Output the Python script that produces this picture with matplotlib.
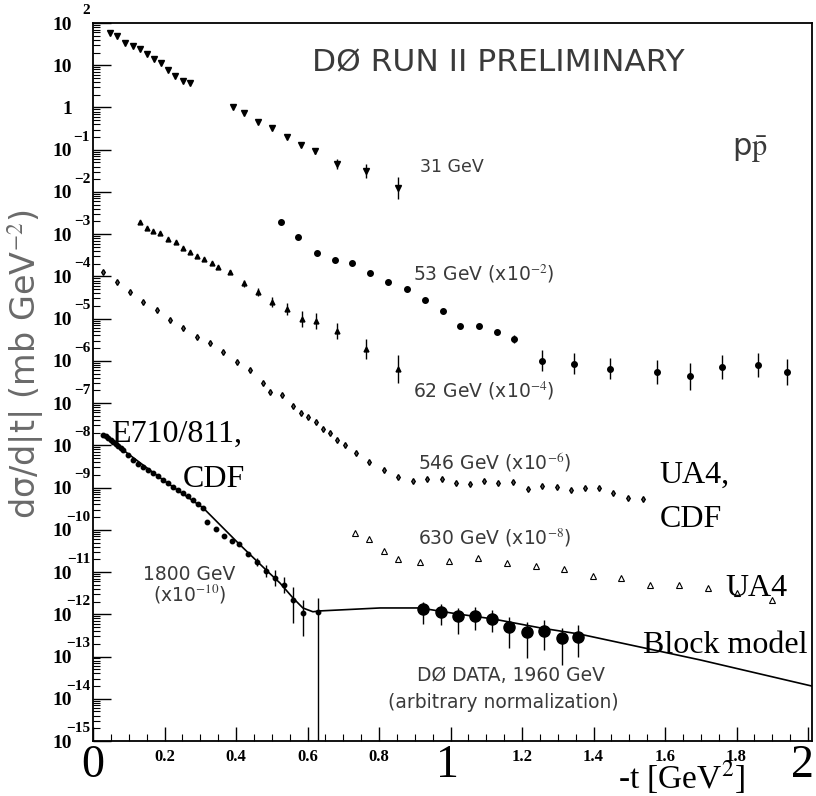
import matplotlib
matplotlib.use('Agg')
import matplotlib.pyplot as plt
import matplotlib.transforms as mtransforms
import numpy as np

plt.rcParams['mathtext.fontset'] = 'stix'

# -t values [GeV^2] and log10(dsigma/dt)
t31 = [0.048, 0.067, 0.090, 0.112, 0.131, 0.151, 0.171, 0.190, 0.210, 0.229, 0.252, 0.271,
       0.392, 0.422, 0.462, 0.501, 0.543, 0.582, 0.621, 0.683, 0.764, 0.853]
y31 = [1.76, 1.69, 1.53, 1.46, 1.38, 1.27, 1.15, 1.05, 0.89, 0.75, 0.63, 0.58,
       0.01, -0.13, -0.34, -0.49, -0.70, -0.89, -1.03, -1.34, -1.50, -1.91]
e31 = [0, 0, 0, 0, 0, 0, 0, 0, 0, 0, 0, 0,
       0, 0, 0, 0, 0, 0.05, 0.06, 0.12, 0.17, 0.26]

t53 = [0.526, 0.573, 0.627, 0.677, 0.724, 0.775, 0.825, 0.878, 0.929, 0.979, 1.027, 1.080,
       1.130, 1.178, 1.256, 1.345, 1.446, 1.578, 1.670, 1.759, 1.860, 1.941]
y53 = [-2.71, -3.07, -3.45, -3.61, -3.68, -3.92, -4.13, -4.30, -4.56, -4.82, -5.17, -5.17,
       -5.32, -5.48, -6.00, -6.07, -6.19, -6.26, -6.36, -6.14, -6.10, -6.26]
e53 = [0, 0, 0, 0, 0, 0, 0, 0, 0, 0, 0, 0,
       0.05, 0.1, 0.25, 0.25, 0.25, 0.28, 0.32, 0.28, 0.28, 0.3]

t62 = [0.131, 0.151, 0.168, 0.187, 0.210, 0.232, 0.252, 0.271, 0.291, 0.310, 0.333, 0.350,
       0.383, 0.422, 0.462, 0.501, 0.543, 0.585, 0.624, 0.683, 0.764, 0.853]
y62 = [-2.71, -2.85, -2.92, -2.97, -3.11, -3.18, -3.33, -3.42, -3.52, -3.59, -3.68, -3.78,
       -3.89, -4.16, -4.37, -4.61, -4.77, -5.01, -5.06, -5.29, -5.72, -6.19]
e62 = [0, 0, 0, 0, 0, 0, 0, 0, 0, 0, 0, 0,
       0.05, 0.08, 0.1, 0.12, 0.14, 0.19, 0.19, 0.19, 0.24, 0.33]

t546 = [0.028, 0.067, 0.103, 0.140, 0.179, 0.215, 0.252, 0.291, 0.327, 0.364, 0.403, 0.439,
        0.476, 0.495, 0.529, 0.559, 0.582, 0.601, 0.624, 0.643, 0.663, 0.683, 0.705, 0.736,
        0.772, 0.814, 0.853, 0.895, 0.934, 0.976, 1.015, 1.055, 1.094, 1.133, 1.175, 1.217,
        1.256, 1.298, 1.337, 1.376, 1.415, 1.455, 1.497, 1.538]
y546 = [-3.90, -4.13, -4.37, -4.61, -4.79, -5.03, -5.22, -5.43, -5.58, -5.79, -6.03, -6.21,
        -6.52, -6.73, -6.81, -7.07, -7.23, -7.33, -7.45, -7.61, -7.71, -7.87, -7.99, -8.18,
        -8.39, -8.58, -8.75, -8.84, -8.80, -8.80, -8.89, -8.91, -8.84, -8.89, -8.87, -9.03,
        -8.96, -8.98, -9.06, -9.01, -9.01, -9.13, -9.25, -9.27]

t630 = [0.733, 0.772, 0.814, 0.853, 0.915, 0.996, 1.077, 1.158, 1.239, 1.317, 1.399, 1.477,
        1.558, 1.639, 1.720, 1.801, 1.899]
y630 = [-10.07, -10.22, -10.50, -10.69, -10.76, -10.74, -10.67, -10.78, -10.86, -10.93, -11.09, -11.14,
        -11.30, -11.30, -11.38, -11.49, -11.66]

t1800 = [0.028, 0.035, 0.042, 0.049, 0.056, 0.063, 0.070, 0.077, 0.084, 0.098, 0.112, 0.126,
         0.140, 0.154, 0.168, 0.182, 0.196, 0.210, 0.224, 0.238, 0.252, 0.266, 0.280, 0.294,
         0.308, 0.319, 0.344, 0.366, 0.389, 0.408, 0.434, 0.459, 0.484, 0.509, 0.534, 0.559,
         0.587, 0.629]
y1800 = [-7.75, -7.78, -7.82, -7.87, -7.92, -7.96, -8.01, -8.06, -8.11, -8.23, -8.35, -8.43,
         -8.51, -8.58, -8.65, -8.73, -8.82, -8.90, -8.99, -9.06, -9.13, -9.21, -9.29, -9.38,
         -9.48, -9.81, -9.98, -10.14, -10.26, -10.33, -10.57, -10.76, -10.97, -11.14, -11.30, -11.66,
         -11.97, -11.94]
e1800_up = [0] * 31 + [0.1, 0.14, 0.2, 0.19, 0.31, 0.31, 0.33]
e1800_dn = [0] * 31 + [0.1, 0.14, 0.2, 0.19, 0.55, 0.55, 5.0]

t_d0 = [0.923, 0.973, 1.021, 1.069, 1.116, 1.164, 1.214, 1.262, 1.312, 1.357]
y_d0 = [-11.87, -11.94, -12.04, -12.04, -12.11, -12.30, -12.42, -12.39, -12.56, -12.53]
e_d0_up = [0.17, 0.19, 0.19, 0.21, 0.21, 0.24, 0.24, 0.26, 0.24, 0.28]
e_d0_dn = [0.36, 0.31, 0.43, 0.33, 0.31, 0.50, 0.62, 0.45, 0.64, 0.47]

t_block = [0.028, 0.084, 0.196, 0.308, 0.408, 0.484, 0.523, 0.559, 0.587, 0.615, 0.635,
           0.803, 0.915, 1.018, 1.119, 1.250, 1.362, 1.698, 2.011]
y_block = [-7.75, -8.11, -8.82, -9.48, -10.33, -10.95, -11.26, -11.61, -11.85, -11.94, -11.92,
           -11.85, -11.85, -11.99, -12.11, -12.32, -12.47, -13.08, -13.70]

decades = list(range(-15, 3))


def errbars(ax, t, ylog, up, dn, **kw):
    ylog = np.array(ylog)
    y = 10 ** ylog
    lo = y - 10 ** (ylog - np.array(dn))
    hi = 10 ** (ylog + np.array(up)) - y
    ax.errorbar(t, y, yerr=[lo, hi], fmt='none', ecolor='black', elinewidth=1.0, capsize=0)


fig = plt.figure(figsize=(8.16, 7.96), dpi=100)
ax = fig.add_axes([93 / 816, 55 / 796, 719 / 816, 718 / 796])
ax.set_yscale('log')
ax.set_xlim(0, 2.011)
ax.set_ylim(1e-15, 1e2)

# Block model curve
ax.plot(t_block, 10 ** np.array(y_block), color='black', lw=1.2, zorder=2)

# data sets
errbars(ax, t31, y31, e31, e31)
ax.plot(t31, 10 ** np.array(y31), 'v', color='black', ms=3.8)

errbars(ax, t53, y53, e53, e53)
ax.plot(t53, 10 ** np.array(y53), 'o', color='black', ms=4)

errbars(ax, t62, y62, e62, e62)
ax.plot(t62, 10 ** np.array(y62), '^', color='black', ms=3.5)

ax.plot(t546, 10 ** np.array(y546), 'd', color='black', mfc='#555555', ms=3)

ax.plot(t630, 10 ** np.array(y630), '^', color='black', mfc='white', mew=0.8, ms=4)

errbars(ax, t1800, y1800, e1800_up, e1800_dn)
ax.plot(t1800, 10 ** np.array(y1800), 'o', color='black', ms=3.2)

errbars(ax, t_d0, y_d0, e_d0_up, e_d0_dn)
ax.plot(t_d0, 10 ** np.array(y_d0), 'o', color='black', ms=8)

# axes styling
for sp in ax.spines.values():
    sp.set_linewidth(1.3)
ax.set_yticks([10.0 ** k for k in decades])
ax.set_yticklabels(['1' if k == 0 else '10' for k in decades],
                   fontsize=14, fontweight='bold', family='Liberation Serif')
ax.yaxis.set_minor_locator(matplotlib.ticker.LogLocator(base=10, subs=np.arange(2, 10), numticks=40))
ax.yaxis.set_minor_formatter(matplotlib.ticker.NullFormatter())
ax.tick_params(axis='y', which='major', direction='in', length=13, width=1, pad=15)
ax.tick_params(axis='y', which='minor', direction='in', length=5, width=0.8)

# raised exponents of the y tick labels, old PAW style
ytrans = mtransforms.blended_transform_factory(ax.transAxes, ax.transData)
for k in decades:
    if k in (0, 1):
        continue
    ax.text(-0.004, 10.0 ** (k + 0.3), str(k).replace('-', '\u2212'), transform=ytrans,
            ha='right', va='center', fontsize=11, fontweight='bold',
            family='Liberation Serif', clip_on=False)

xt = [0.2, 0.4, 0.6, 0.8, 1.0, 1.2, 1.4, 1.6, 1.8]
ax.set_xticks([0.0] + xt + [2.0])
ax.set_xticklabels([''] + ['' if v == 1.0 else '%.1f' % v for v in xt] + [''],
                   fontsize=12, fontweight='bold', family='Liberation Serif')
ax.set_xticks(np.arange(0, 2.01, 0.05), minor=True)
ax.tick_params(axis='x', which='major', direction='in', length=10, width=1, pad=6)
ax.tick_params(axis='x', which='minor', direction='in', length=5, width=0.8)

# big axis numbers and x label
trans = mtransforms.blended_transform_factory(ax.transData, ax.transAxes)
for v, s in [(0.0, '0'), (0.99, '1'), (1.983, '2')]:
    ax.text(v, -0.034, s, transform=trans, ha='center', va='center',
            fontsize=33, family='Liberation Serif', clip_on=False)
ax.text(1.645, -0.051, '-t [GeV$^2$]', transform=trans, ha='center', va='center',
        fontsize=24, family='Liberation Serif', clip_on=False)

ax.text(-0.093, 0.524, 'd\u03c3/d|t| (mb GeV$^{-2}$)', transform=ax.transAxes, rotation=90,
        ha='center', va='center', fontsize=24, color='#6a6a6a', family='DejaVu Sans')

grey = '#3a3a3a'
def note(x, y, s, size=13.5, ha='left'):
    ax.text(x, 10.0 ** y, s, ha=ha, va='center', fontsize=size, color=grey, family='DejaVu Sans')

note(0.612, 1.06, 'D\u00d8 RUN II PRELIMINARY', size=22.5)
note(1.787, -1.0, r'p$\bar{\mathrm{p}}$', size=22)
note(0.915, -1.42, '31 GeV', size=12.5)
note(0.895, -3.95, '53 GeV (x10$^{-2}$)')
note(0.895, -6.7, '62 GeV (x10$^{-4}$)')
note(0.91, -8.4, '546 GeV (x10$^{-6}$)')
note(0.91, -10.2, '630 GeV (x10$^{-8}$)')
note(0.27, -11.05, '1800 GeV', ha='center')
note(0.27, -11.5, '(x10$^{-10}$)', ha='center')
note(0.905, -13.45, 'D\u00d8 DATA, 1960 GeV')
note(0.825, -14.1, '(arbitrary normalization)')

def bigtext(x, y, s):
    ax.text(x, 10.0 ** y, s, ha='left', va='center', fontsize=23, color='black',
            family='Liberation Serif')

bigtext(0.05, -7.75, 'E710/811,')
bigtext(0.25, -8.8, 'CDF')
bigtext(1.585, -8.7, 'UA4,')
bigtext(1.585, -9.75, 'CDF')
bigtext(1.77, -11.4, 'UA4')
bigtext(1.538, -12.75, 'Block model')

fig.savefig('out.png', dpi=100)
